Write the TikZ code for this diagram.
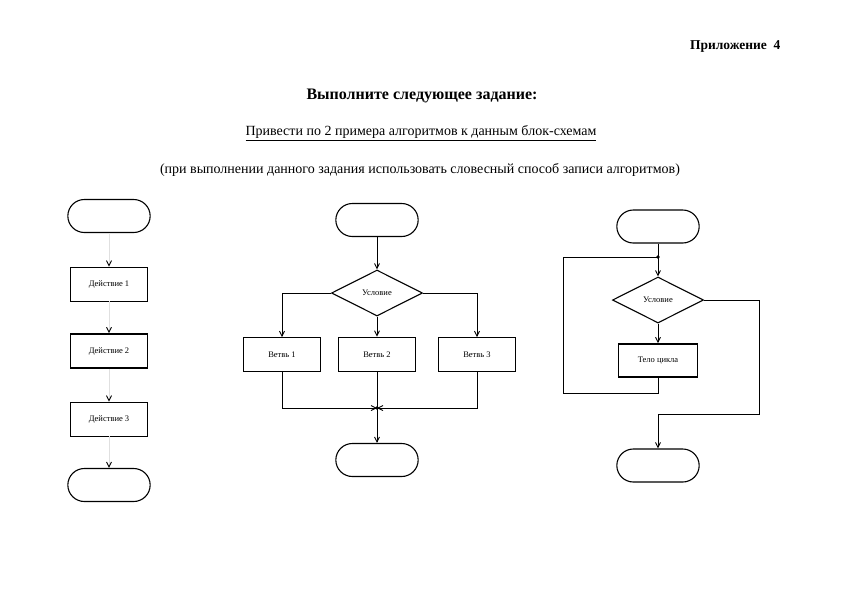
\documentclass[tikz,border=0pt]{standalone}
\usepackage{fontspec}
\setmainfont{Liberation Serif}
\usetikzlibrary{shapes.geometric,shapes.misc,arrows.meta,positioning}

\tikzset{
  term/.style={draw, rounded rectangle, minimum width=89pt, minimum height=33pt, line width=1.1pt},
  act/.style={draw, rectangle, minimum width=77pt, minimum height=34pt, inner sep=1pt, font=\fontsize{8.5}{10}\selectfont, line width=0.9pt},
  cond/.style={draw, diamond, minimum width=91pt, minimum height=46pt, inner sep=0pt, font=\fontsize{8.5}{10}\selectfont, line width=1.1pt},
  arr/.style={-{Straight Barb[length=5pt,width=5pt]}, line width=0.9pt},
  faint/.style={draw=black!12, -{Straight Barb[length=5pt,width=5pt,color=black]}, line width=0.9pt},
}

\begin{document}
\begin{tikzpicture}[x=1pt,y=-1pt]
\useasboundingbox (0,0) rectangle (842,595);

% headings
\node[font=\bfseries\fontsize{13.5}{15}\selectfont, anchor=east] (app) at (784,46) {Приложение\ \ 4};
\node[font=\bfseries\fontsize{16}{18}\selectfont] (task) at (422,96) {Выполните следующее задание:};
\node[font=\fontsize{14}{16}\selectfont] (exmp) at (421,133) {\underline{Привести по 2 примера алгоритмов к данным блок-схемам}};
\node[font=\fontsize{14}{16}\selectfont] (note) at (420,170) {(при выполнении данного задания использовать словесный способ записи алгоритмов)};

% linear
\node[term] (t1) at (109,216) {};
\node[act] (a1) at (109,284) {Действие 1};
\node[act, line width=1.6pt] (a2) at (109,351) {Действие 2};
\node[act] (a3) at (109,419) {Действие 3};
\node[term] (t2) at (109,485) {};
\draw[faint] (t1) -- (a1);
\draw[faint] (a1) -- (a2);
\draw[faint] (a2) -- (a3);
\draw[faint] (a3) -- (t2);

% branching
\node[term] (t3) at (377,220) {};
\node[cond] (c1) at (377,293) {Условие};
\node[act] (b1) at (282,354.5) {Ветвь 1};
\node[act, line width=1.6pt] (b2) at (377,354.5) {Ветвь 2};
\node[act] (b3) at (477,354.5) {Ветвь 3};
\coordinate (m) at (377,408);
\node[term] (t4) at (377,460) {};
\draw[arr] (t3) -- (c1);
\draw[arr] (c1.west) -| (b1);
\draw[arr] (c1) -- (b2);
\draw[arr] (c1.east) -| (b3);
\draw[arr] (b1.south) |- (m);
\draw[arr] (b3.south) |- (m);
\draw[line width=0.9pt] (b2) -- (m);
\fill (m) circle (1.8pt);
\draw[arr] (m) -- (t4);

% loop
\node[term] (t5) at (658,226.5) {};
\node[cond] (c2) at (658,300) {Условие};
\node[act, line width=1.6pt, minimum width=79pt, minimum height=33pt] (body) at (658,360.5) {Тело цикла};
\node[term] (t6) at (658,465.5) {};
\coordinate (j) at (658,257);
\coordinate (lb) at (563,393);
\coordinate (rx) at (759,414);
\draw[line width=0.9pt] (t5) -- (j);
\fill (j) circle (1.8pt);
\draw[arr] (j) -- (c2);
\draw[arr] (c2) -- (body);
\draw[line width=0.9pt] (body.south) |- (lb) |- (j);
\draw[arr] (c2.east) -| (rx) -| (t6);
\end{tikzpicture}
\end{document}
